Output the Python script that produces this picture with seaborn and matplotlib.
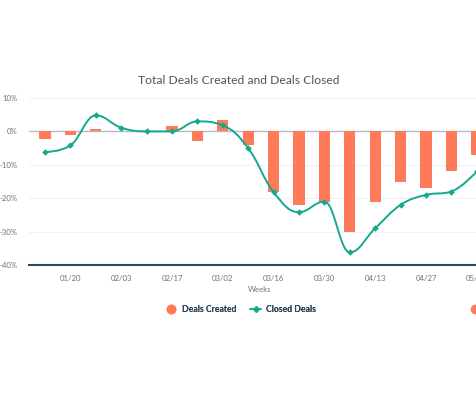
import numpy as np
import pandas as pd
import seaborn as sns
import matplotlib
matplotlib.use("Agg")
import matplotlib.pyplot as plt
from matplotlib.path import Path
from matplotlib.patches import PathPatch
from matplotlib.lines import Line2D

weeks = ["01/13", "01/20", "01/27", "02/03", "02/10", "02/17", "02/24", "03/02", "03/09",
         "03/16", "03/23", "03/30", "04/06", "04/13", "04/20", "04/27", "05/04", "05/11"]
deals_created = [-2.2, -1.0, 0.7, 0, 0, 1.6, -3.0, 3.5, -4.2,
                 -18.2, -22.0, -21.0, -30.0, -21.0, -15.2, -17.0, -12.0, -7.0]
closed_deals = [-6.2, -4.2, 4.8, 1.1, 0, 0, 3.0, 1.8, -5.0,
                -18.2, -24.2, -21.0, -36.2, -29.0, -22.0, -19.0, -18.0, -12.0]
y_ticks = [10, 0, -10, -20, -30, -40]
y_tick_labels = ["10%", "0%", "-10%", "-20%", "-30%", "-40%"]
x_tick_labels = weeks[1::2]

ORANGE = "#ff7a59"
TEAL = "#14a98d"
DARK = "#33475b"

sns.set_theme(style="white")
plt.rcParams["font.family"] = ["Lato", "DejaVu Sans"]

W, H = 477, 398
fig = plt.figure(figsize=(W / 100, H / 100), dpi=100)

# plot area (right side extends beyond the figure, as in the cropped reference)
step = 25.4
x_left = -0.63
x_right = 18.4
left_px, top_px, bot_px = 29, 98, 265
width_px = (x_right - x_left) * step
ax = fig.add_axes([left_px / W, 1 - bot_px / H, width_px / W, (bot_px - top_px) / H])

n = len(weeks)
pos = np.arange(n)
df = pd.DataFrame({"week": weeks, "created": deals_created, "closed": closed_deals, "pos": pos})

for yv in y_ticks:
    if yv == 0:
        ax.axhline(0, color="#b4bcc6", lw=1.0, zorder=1.5)
    elif yv != -40:
        ax.axhline(yv, color="#eef1f5", lw=0.8, zorder=0)

sns.barplot(data=df, x="week", y="created", color=ORANGE, saturation=1, width=0.44,
            linewidth=0, ax=ax, zorder=2)


def spline_path(xs, ys, smoothing=1.5):
    nn = len(xs)
    denom = smoothing + 1
    lc = [None] * nn
    rc = [None] * nn
    for i in range(1, nn - 1):
        px, py = xs[i], ys[i]
        lx, ly = xs[i - 1], ys[i - 1]
        nx, ny = xs[i + 1], ys[i + 1]
        lcx = (smoothing * px + lx) / denom
        lcy = (smoothing * py + ly) / denom
        rcx = (smoothing * px + nx) / denom
        rcy = (smoothing * py + ny) / denom
        if rcx != lcx:
            corr = ((rcy - lcy) * (rcx - px)) / (rcx - lcx) + py - rcy
            lcy += corr
            rcy += corr
        if lcy > ly and lcy > py:
            lcy = max(ly, py); rcy = 2 * py - lcy
        elif lcy < ly and lcy < py:
            lcy = min(ly, py); rcy = 2 * py - lcy
        if rcy > ny and rcy > py:
            rcy = max(ny, py); lcy = 2 * py - rcy
        elif rcy < ny and rcy < py:
            rcy = min(ny, py); lcy = 2 * py - rcy
        lc[i] = (lcx, lcy)
        rc[i] = (rcx, rcy)
    verts = [(xs[0], ys[0])]
    codes = [Path.MOVETO]
    for i in range(1, nn):
        c1 = rc[i - 1] if rc[i - 1] is not None else (xs[i - 1], ys[i - 1])
        c2 = lc[i] if lc[i] is not None else (xs[i], ys[i])
        verts += [c1, c2, (xs[i], ys[i])]
        codes += [Path.CURVE4] * 3
    return Path(verts, codes)


path = spline_path(list(pos.astype(float)), list(closed_deals))
ax.add_patch(PathPatch(path, fill=False, edgecolor=TEAL, lw=1.4, zorder=3))
sns.scatterplot(data=df, x="pos", y="closed", marker="D", s=11, color=TEAL,
                linewidth=0, ax=ax, zorder=4)

ax.set_xlim(x_left, x_right)
ax.set_ylim(-40, 10)
ax.set_yticks(y_ticks)
ax.set_yticklabels(y_tick_labels)
ax.set_xticks(pos[1::2])
ax.set_xticklabels(x_tick_labels)
ax.set_xlabel("")
ax.set_ylabel("")
for s in ["top", "right", "left"]:
    ax.spines[s].set_visible(False)
ax.spines["bottom"].set_color(DARK)
ax.spines["bottom"].set_linewidth(1.5)
ax.spines["bottom"].set_zorder(5)
ax.tick_params(axis="y", length=0, pad=8, labelsize=5.6, labelcolor="#707070")
ax.tick_params(axis="x", length=4, width=0.6, color="#e6eaf0", pad=3,
               labelsize=5.6, labelcolor="#707070", direction="out")

fig.text(239 / W, 1 - 80 / H, "Total Deals Created and Deals Closed", ha="center",
         va="center", fontsize=8.7, color="#4a5663")
fig.text(260 / W, 1 - 289 / H, "Weeks", ha="center", va="center", fontsize=5.6,
         color="#707070")

handles = [Line2D([], [], marker="o", color=ORANGE, linestyle="None", markersize=6),
           Line2D([], [], marker="D", color=TEAL, markersize=2.8, lw=1.2)]
leg = fig.legend(handles, ["Deals Created", "Closed Deals"], loc="center",
                 bbox_to_anchor=(241 / W, 1 - 310 / H), ncol=2, frameon=False,
                 prop={"size": 6.2, "weight": "bold"}, handlelength=1.3,
                 handletextpad=0.6, columnspacing=1.6, labelcolor=DARK)
fig.add_artist(leg)
# partially visible legend symbol at the right edge of the cropped reference
leg2 = fig.legend([Line2D([], [], marker="o", color=ORANGE, linestyle="None", markersize=6)],
                  [""], loc="center left",
                  bbox_to_anchor=(462 / W, 1 - 310 / H), frameon=False,
                  prop={"size": 6.2, "weight": "bold"}, handlelength=1.3,
                  handletextpad=0.6, labelcolor=DARK)

fig.savefig("out.png", dpi=100)
